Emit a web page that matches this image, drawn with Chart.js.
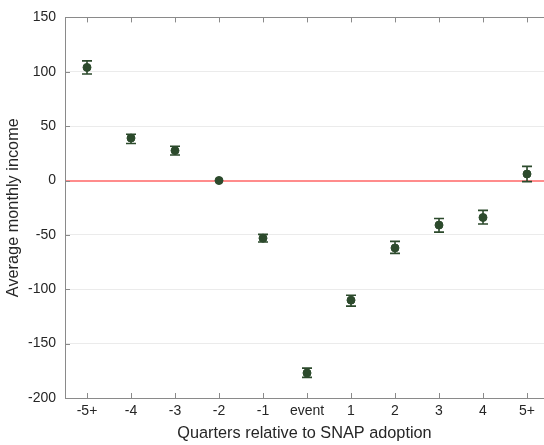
<!DOCTYPE html>
<html>
<head>
<meta charset="utf-8">
<script src="https://cdn.jsdelivr.net/npm/chart.js@4/dist/chart.umd.min.js"></script>
<style>
html,body{margin:0;padding:0;background:#fff;overflow:hidden;}
#wrap{width:544px;height:445px;}
</style>
</head>
<body>
<div id="wrap"><canvas id="c" width="544" height="445"></canvas></div>
<script>
const categories = ['-5+','-4','-3','-2','-1','event','1','2','3','4','5+'];
const estimates = [104, 39, 27.5, 0, -53, -177, -110, -62, -41, -34, 6];
const lowerCI  = [98, 34, 23.5, 0, -56.5, -181, -115.5, -67, -47.5, -40, -1];
const upperCI  = [110, 42.5, 31.5, 0, -49.5, -172.5, -105.5, -56, -35, -27.5, 13];
const yTicks = [-200, -150, -100, -50, 0, 50, 100, 150];

const dotColor = '#2c4a2c';
const axisColor = '#8a8a8a';
const textColor = '#262626';
const fontFamily = '"Liberation Sans", Arial, Helvetica, sans-serif';

const errorBars = {
  id: 'errorBars',
  beforeDatasetsDraw(chart) {
    const ctx = chart.ctx, xs = chart.scales.x, ys = chart.scales.y;
    ctx.save();
    ctx.strokeStyle = dotColor;
    ctx.lineWidth = 1.6;
    estimates.forEach((v, i) => {
      if (lowerCI[i] === upperCI[i]) return;
      const px = xs.getPixelForValue(i);
      const pl = ys.getPixelForValue(lowerCI[i]);
      const pu = ys.getPixelForValue(upperCI[i]);
      ctx.beginPath();
      ctx.moveTo(px, pl); ctx.lineTo(px, pu);
      ctx.moveTo(px - 5, pl); ctx.lineTo(px + 5, pl);
      ctx.moveTo(px - 5, pu); ctx.lineTo(px + 5, pu);
      ctx.stroke();
    });
    ctx.restore();
  },
  afterDraw(chart) {
    const ctx = chart.ctx, xs = chart.scales.x, ys = chart.scales.y, a = chart.chartArea;
    ctx.save();
    ctx.strokeStyle = axisColor;
    ctx.lineWidth = 1;
    ctx.beginPath();
    xs.ticks.forEach((t) => {
      const px = Math.round(xs.getPixelForValue(t.value)) + 0.5;
      ctx.moveTo(px, a.bottom); ctx.lineTo(px, a.bottom - 5);
      ctx.moveTo(px, a.top); ctx.lineTo(px, a.top + 5);
    });
    ys.ticks.forEach((t) => {
      const py = Math.round(ys.getPixelForValue(t.value)) + 0.5;
      ctx.moveTo(a.left, py); ctx.lineTo(a.left + 5, py);
    });
    ctx.stroke();
    ctx.restore();
  }
};

new Chart(document.getElementById('c'), {
  type: 'scatter',
  data: {
    datasets: [{
      data: estimates.map((v, i) => ({ x: i, y: v })),
      backgroundColor: dotColor,
      borderColor: dotColor,
      pointRadius: 4,
      pointHoverRadius: 4
    }]
  },
  options: {
    responsive: false,
    animation: false,
    devicePixelRatio: 1,
    layout: { padding: 0, autoPadding: false },
    plugins: { legend: { display: false }, tooltip: { enabled: false } },
    scales: {
      x: {
        type: 'linear',
        position: 'bottom',
        min: -0.5,
        max: 10.386,
        afterBuildTicks: (s) => { s.ticks = categories.map((c, i) => ({ value: i })); },
        afterFit: (s) => { s.height = 47; },
        grid: { drawOnChartArea: false, drawTicks: false },
        border: { display: true, color: axisColor, width: 1 },
        ticks: {
          padding: 5,
          color: textColor,
          font: { family: fontFamily, size: 14 },
          maxRotation: 0,
          autoSkip: false,
          callback: (v) => categories[v]
        },
        title: {
          display: true,
          text: 'Quarters relative to SNAP adoption',
          color: textColor,
          font: { family: fontFamily, size: 16.3 },
          padding: { top: 2, bottom: 2 }
        }
      },
      x2: {
        type: 'linear',
        position: 'top',
        min: -0.5,
        max: 10.386,
        afterFit: (s) => { s.height = 15; },
        grid: { drawOnChartArea: false, drawTicks: false },
        border: { display: true, color: axisColor, width: 1 },
        ticks: { display: false }
      },
      y: {
        min: -200,
        max: 150,
        afterBuildTicks: (s) => { s.ticks = yTicks.map((v) => ({ value: v })); },
        afterFit: (s) => { s.width = 65; },
        grid: {
          drawTicks: false,
          color: (c) => c.tick && c.tick.value === 0 ? '#ff8c8c' : '#ebebeb',
          lineWidth: (c) => c.tick && c.tick.value === 0 ? 2 : 1
        },
        border: { display: true, color: axisColor, width: 1 },
        ticks: {
          padding: 9,
          color: textColor,
          font: { family: fontFamily, size: 14 }
        },
        title: {
          display: true,
          text: 'Average monthly income',
          color: textColor,
          font: { family: fontFamily, size: 16.3 },
          padding: { top: 4, bottom: 4 }
        }
      }
    }
  },
  plugins: [errorBars]
});
</script>
</body>
</html>
